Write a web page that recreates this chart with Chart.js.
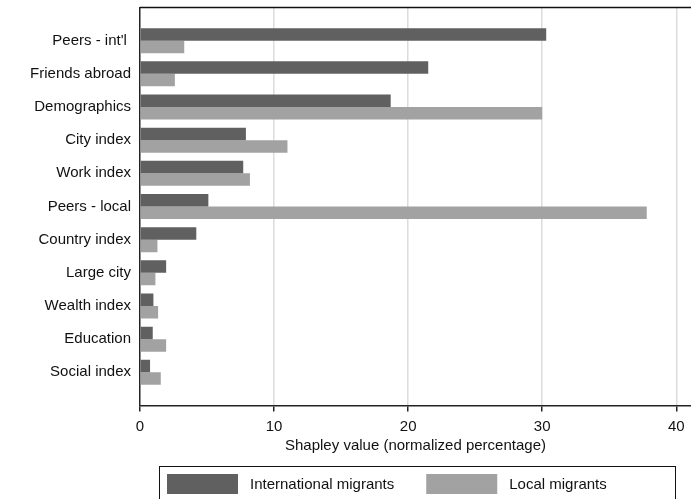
<!DOCTYPE html>
<html>
<head>
<meta charset="utf-8">
<script src="https://cdn.jsdelivr.net/npm/chart.js@4"></script>
<style>
  html, body { margin: 0; padding: 0; background: #fff; }
  #wrap { width: 691px; height: 499px; }
</style>
</head>
<body>
<div id="wrap"><canvas id="shapley"></canvas></div>
<script>
const categories = [
    "Peers - int'l ",
    'Friends abroad',
    'Demographics',
    'City index',
    'Work index',
    'Peers - local',
    'Country index',
    'Large city',
    'Wealth index',
    'Education',
    'Social index'
];
const international = [30.3, 21.5, 18.7, 7.9, 7.7, 5.1, 4.2, 1.95, 1.0, 0.95, 0.75];
const local = [3.3, 2.6, 30.0, 11.0, 8.2, 37.8, 1.3, 1.15, 1.35, 1.95, 1.55];
const xTicks = [0, 10, 20, 30, 40];

const FONT = '"Liberation Sans", Arial, sans-serif';
Chart.defaults.font.family = FONT;
Chart.defaults.color = '#111';

// empty slot above and below so the groups sit a full step from the frame
const pad = arr => [null, ...arr, null];

// top frame line + boxed legend (Stata look)
const frameAndLegend = {
    id: 'frameAndLegend',
    afterDraw(chart) {
        const ctx = chart.ctx;
        const area = chart.chartArea;
        ctx.save();
        ctx.strokeStyle = '#111';
        ctx.lineWidth = 1.5;
        ctx.beginPath();
        ctx.moveTo(area.left, area.top);
        ctx.lineTo(chart.width, area.top);
        ctx.stroke();

        // legend
        ctx.lineWidth = 1;
        ctx.strokeStyle = '#111';
        ctx.strokeRect(159.5, 466.5, 516, 40);
        ctx.font = '15px ' + FONT;
        ctx.textBaseline = 'alphabetic';
        let x = 167;
        chart.data.datasets.forEach(ds => {
            ctx.fillStyle = ds.backgroundColor;
            ctx.fillRect(x, 474, 71, 20);
            ctx.fillStyle = '#111';
            ctx.fillText(ds.label, x + 83, 489);
            x += 83 + ctx.measureText(ds.label).width + 32;
        });
        ctx.restore();
    }
};

new Chart(document.getElementById('shapley'), {
    type: 'bar',
    data: {
        labels: ['', ...categories, ''],
        datasets: [{
            label: 'International migrants',
            data: pad(international),
            backgroundColor: '#606060',
            categoryPercentage: 0.753,
            barPercentage: 1
        }, {
            label: 'Local migrants',
            data: pad(local),
            backgroundColor: '#a2a2a2',
            categoryPercentage: 0.753,
            barPercentage: 1
        }]
    },
    options: {
        indexAxis: 'y',
        responsive: true,
        maintainAspectRatio: false,
        animation: false,
        layout: { padding: { top: 0, right: 0, bottom: 40, left: 0 } },
        plugins: {
            legend: { display: false },
            tooltip: { enabled: false }
        },
        scales: {
            x: {
                min: 0,
                max: 41.1,
                ticks: {
                    padding: 6,
                    font: { size: 15 }
                },
                afterBuildTicks: scale => {
                    scale.ticks = xTicks.map(v => ({ value: v }));
                },
                grid: {
                    color: c => (c.tick && c.tick.value === 0) ? 'rgba(0,0,0,0)' : '#dcdcdc',
                    lineWidth: 1.5,
                    tickColor: '#222',
                    tickLength: 6
                },
                border: { color: '#222', width: 1.5 },
                title: {
                    display: true,
                    text: 'Shapley value (normalized percentage)',
                    font: { size: 15 },
                    padding: { top: -4.5, bottom: 4 }
                }
            },
            y: {
                offset: false,
                grid: {
                    display: true,
                    drawOnChartArea: false,
                    color: 'rgba(0,0,0,0)',
                    drawTicks: true,
                    tickLength: 9
                },
                border: { color: '#222', width: 1.5 },
                ticks: {
                    autoSkip: false,
                    padding: 0,
                    font: { size: 15, lineHeight: 1 }
                },
                afterFit: scale => { scale.width = 140; }
            }
        }
    },
    plugins: [frameAndLegend]
});
</script>
</body>
</html>
